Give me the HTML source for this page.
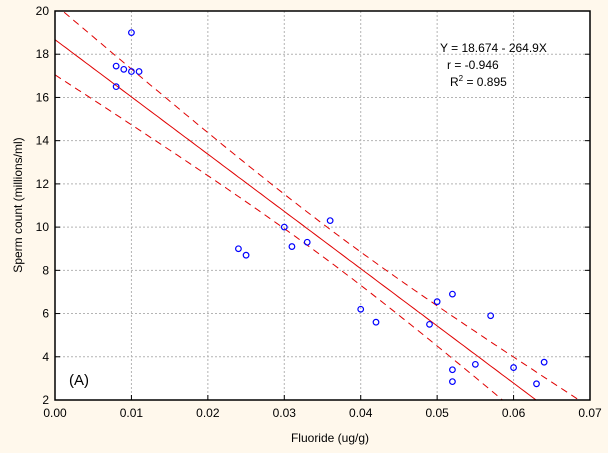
<!DOCTYPE html>
<html><head><meta charset="utf-8"><style>
body{margin:0;background:#fff8ec;}
svg{display:block;font-family:"Liberation Sans",sans-serif;}
</style></head><body>
<svg id="chart" width="608" height="453">
<rect x="0" y="0" width="608" height="453" fill="#fff8ec"/>
<rect x="55" y="11" width="535" height="389" fill="#ffffff"/>
<g id="grid"></g><g id="fit"></g><g id="pts"></g><g id="axes"></g>
<text x="440" y="52" font-size="12">Y = 18.674 - 264.9X</text>
<text x="447" y="69" font-size="12">r = -0.946</text>
<text x="450" y="86" font-size="12">R<tspan font-size="8" dy="-5">2</tspan><tspan dy="5"> = 0.895</tspan></text>
<text x="69" y="385" font-size="15">(A)</text>
<text x="330" y="442" font-size="12" text-anchor="middle">Fluoride (ug/g)</text>
<text transform="translate(22,205) rotate(-90)" font-size="12" text-anchor="middle">Sperm count (millions/ml)</text>
</svg>
<script>
const xVals=[0.010,0.008,0.009,0.010,0.011,0.008,0.024,0.025,0.030,0.031,0.033,0.036,0.040,0.042,0.049,0.050,0.052,0.057,0.052,0.052,0.055,0.060,0.063,0.064];
const yVals=[19.0,17.45,17.3,17.2,17.2,16.5,9.0,8.7,10.0,9.1,9.3,10.3,6.2,5.6,5.5,6.55,6.9,5.9,3.4,2.85,3.65,3.5,2.75,3.75];
const xTicks=[0,0.01,0.02,0.03,0.04,0.05,0.06,0.07];
const yTicks=[2,4,6,8,10,12,14,16,18,20];
const intercept=18.674, slope=-264.9;
const L=55,R=590,T=11,B=400;
const sx=v=>L+(v-0)/0.07*(R-L);
const sy=v=>B-(v-2)/18*(B-T);
const NS='http://www.w3.org/2000/svg';
function mk(p,t,a){const e=document.createElementNS(NS,t);for(const k in a)e.setAttribute(k,a[k]);p.appendChild(e);return e;}
const grid=document.getElementById('grid'),axes=document.getElementById('axes'),fit=document.getElementById('fit'),pts=document.getElementById('pts');
xTicks.forEach((v,i)=>{const x=sx(v);
 if(i>0&&i<xTicks.length-1){const g=mk(grid,'line',{x1:x,x2:x,y1:T,y2:B,stroke:'#b4b4b4','stroke-dasharray':'2,2'});
 
 }
 const tk=mk(axes,'line',{x1:x,x2:x,y1:B,y2:B-5,stroke:'#000'});
 
 
 const t=mk(axes,'text',{x:x,y:B+17,'font-size':12,'text-anchor':'middle'});t.textContent=v.toFixed(2);
 
 });
yTicks.forEach((v,i)=>{const y=sy(v);
 if(i>0&&i<yTicks.length-1){const g=mk(grid,'line',{x1:L,x2:R,y1:y,y2:y,stroke:'#b4b4b4','stroke-dasharray':'2,2'});
 
 }
 const tk=mk(axes,'line',{x1:L,x2:L+5,y1:y,y2:y,stroke:'#000'});
 
 
 const tk2=mk(axes,'line',{x1:R,x2:R-5,y1:y,y2:y,stroke:'#000'});
 
 
 const t=mk(axes,'text',{x:L-6,y:y+4,'font-size':12,'text-anchor':'end'});t.textContent=v;
 
 });
const fr=mk(axes,'rect',{x:L,y:T,width:R-L,height:B-T,fill:'none',stroke:'#000','stroke-width':1.5});


// confidence band
const n=xVals.length,mx=xVals.reduce((a,b)=>a+b)/n;
let sxx=0,sse=0;xVals.forEach((x,i)=>{sxx+=(x-mx)**2;sse+=(yVals[i]-(intercept+slope*x))**2;});
const s=Math.sqrt(sse/(n-2)),tcrit=2.07;
const clip=mk(fit,'clipPath',{id:'pc'});mk(clip,'rect',{x:L,y:T,width:R-L,height:B-T});
function path(off){let d='';for(let k=0;k<=140;k++){const x=k*0.0005;const y=intercept+slope*x+off*tcrit*s*Math.sqrt(1/n+(x-mx)**2/sxx);d+=(k?'L':'M')+sx(x).toFixed(1)+','+sy(y).toFixed(1);}return d;}
const ln=mk(fit,'path',{d:path(0),fill:'none',stroke:'#e00000','clip-path':'url(#pc)'});


[1,-1].forEach(o=>{const p=mk(fit,'path',{d:path(o),fill:'none',stroke:'#e00000','stroke-dasharray':'7,5','clip-path':'url(#pc)'});
 
 });
xVals.forEach((x,i)=>{const c=mk(pts,'circle',{cx:sx(x),cy:sy(yVals[i]),r:2.8,fill:'none',stroke:'#0000ff','stroke-width':1.2});
 
 });
</script>
</body></html>
